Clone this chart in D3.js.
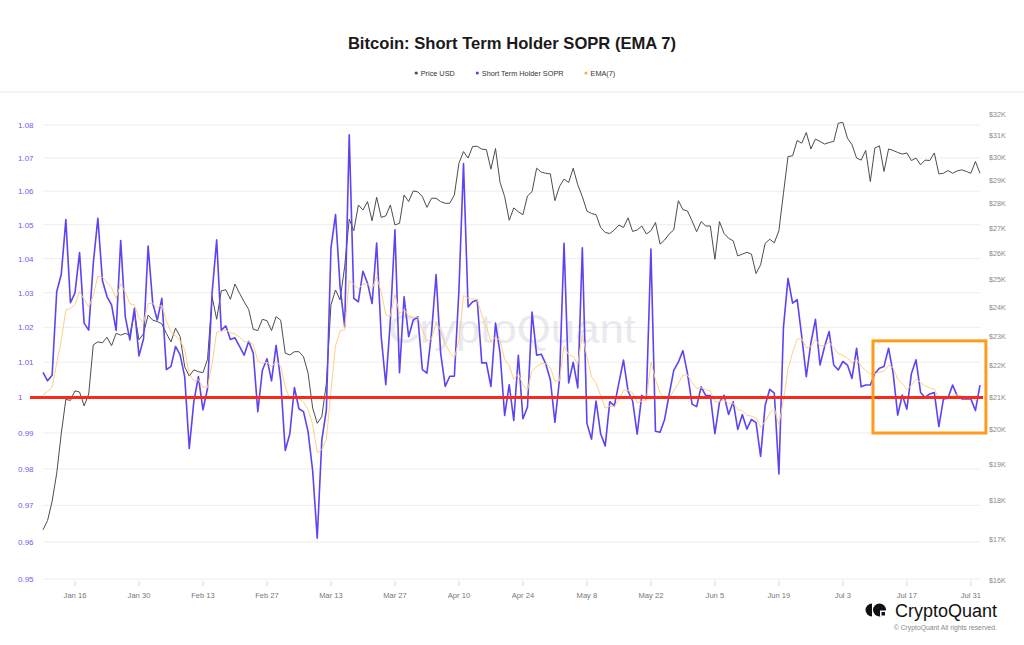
<!DOCTYPE html>
<html>
<head>
<meta charset="utf-8">
<title>Bitcoin: Short Term Holder SOPR (EMA 7)</title>
<script src="https://cdn.jsdelivr.net/npm/d3@7"></script>
<style>
  html, body { margin: 0; padding: 0; background: #fff; }
  svg { display: block; font-family: "Liberation Sans", Arial, Helvetica, sans-serif; }
</style>
</head>
<body>
<div id="chart"></div>
<script>
/* -------------------------------------------------
   Bitcoin: Short Term Holder SOPR (EMA 7) – daily, 2023
   ------------------------------------------------- */

// ---------------------------------------------------------
// 1. DATA – one value per day, starting Jan 9 2023
// ---------------------------------------------------------
const firstDay = "2023-01-09";

const seriesNames = ["Price USD", "Short Term Holder SOPR", "EMA(7)"];

const soprValues = [
  1.0071, 1.0047, 1.0063, 1.0303, 1.0354, 1.0515, 1.0271, 1.0300, 1.0418, 1.0212,
  1.0192, 1.0386, 1.0519, 1.0336, 1.0289, 1.0265, 1.0191, 1.0453, 1.0231, 1.0164,
  1.0255, 1.0118, 1.0167, 1.0437, 1.0270, 1.0221, 1.0284, 1.0079, 1.0088, 1.0145,
  1.0121, 1.0059, 0.9857, 0.9988, 1.0059, 0.9965, 1.0026, 1.0300, 1.0455, 1.0192,
  1.0204, 1.0165, 1.0170, 1.0145, 1.0120, 1.0160, 1.0126, 0.9960, 1.0077, 1.0110,
  1.0047, 1.0148, 1.0049, 0.9851, 0.9898, 1.0028, 0.9968, 0.9960, 0.9903, 0.9795,
  0.9610, 0.9880, 0.9965, 1.0431, 1.0530, 1.0318, 1.0202, 1.0770, 1.0284, 1.0274,
  1.0363, 1.0328, 1.0269, 1.0446, 1.0173, 1.0036, 1.0221, 1.0485, 1.0070, 1.0288,
  1.0173, 1.0221, 1.0231, 1.0079, 1.0069, 1.0183, 1.0353, 1.0126, 1.0031, 1.0060,
  1.0060, 1.0308, 1.0683, 1.0259, 1.0274, 1.0279, 1.0098, 1.0098, 1.0031, 1.0212,
  1.0126, 0.9949, 1.0036, 0.9935, 1.0120, 0.9940, 0.9973, 1.0244, 1.0120, 1.0123,
  1.0095, 1.0050, 0.9930, 1.0050, 1.0445, 1.0041, 1.0100, 1.0027, 1.0432, 0.9927,
  0.9883, 0.9990, 0.9898, 0.9864, 0.9988, 0.9976, 1.0041, 1.0106, 1.0018, 0.9990,
  0.9897, 1.0006, 0.9995, 1.0428, 0.9905, 0.9902, 0.9938, 1.0009, 1.0077, 1.0100,
  1.0133, 1.0068, 0.9981, 0.9974, 1.0030, 1.0005, 1.0005, 0.9898, 0.9986, 1.0006,
  0.9952, 0.9988, 0.9910, 0.9952, 0.9911, 0.9938, 0.9929, 0.9835, 0.9978, 1.0023,
  1.0012, 0.9786, 1.0200, 1.0342, 1.0270, 1.0280, 1.0174, 1.0059, 1.0155, 1.0223,
  1.0092, 1.0145, 1.0188, 1.0092, 1.0078, 1.0102, 1.0092, 1.0054, 1.0140, 1.0030,
  1.0035, 1.0035, 1.0068, 1.0083, 1.0088, 1.0140, 1.0068, 0.9950, 1.0007, 0.9967,
  1.0068, 1.0107, 1.0014, 1.0000, 1.0010, 1.0014, 0.9918, 0.9996, 0.9998, 1.0035,
  1.0005, 0.9996, 0.9996, 0.9996, 0.9963, 1.0035
];

const emaValues = [
  1.0007, 1.0017, 1.0029, 1.0097, 1.0162, 1.0250, 1.0255, 1.0266, 1.0304, 1.0281,
  1.0259, 1.0291, 1.0348, 1.0345, 1.0331, 1.0315, 1.0284, 1.0326, 1.0302, 1.0268,
  1.0265, 1.0228, 1.0213, 1.0269, 1.0269, 1.0257, 1.0264, 1.0218, 1.0186, 1.0176,
  1.0162, 1.0136, 1.0066, 1.0047, 1.0050, 1.0029, 1.0028, 1.0096, 1.0186, 1.0188,
  1.0192, 1.0185, 1.0181, 1.0172, 1.0159, 1.0159, 1.0151, 1.0103, 1.0097, 1.0100,
  1.0087, 1.0102, 1.0089, 1.0030, 0.9997, 1.0005, 0.9996, 0.9987, 0.9966, 0.9923,
  0.9845, 0.9854, 0.9882, 1.0019, 1.0147, 1.0190, 1.0193, 1.0337, 1.0324, 1.0312,
  1.0325, 1.0326, 1.0312, 1.0346, 1.0303, 1.0236, 1.0232, 1.0295, 1.0239, 1.0251,
  1.0232, 1.0229, 1.0230, 1.0192, 1.0161, 1.0167, 1.0214, 1.0192, 1.0152, 1.0129,
  1.0112, 1.0161, 1.0292, 1.0284, 1.0282, 1.0281, 1.0235, 1.0201, 1.0159, 1.0172,
  1.0161, 1.0108, 1.0090, 1.0051, 1.0068, 1.0036, 1.0020, 1.0076, 1.0087, 1.0096,
  1.0096, 1.0085, 1.0046, 1.0047, 1.0147, 1.0121, 1.0116, 1.0094, 1.0179, 1.0116,
  1.0058, 1.0041, 1.0005, 0.9970, 0.9975, 0.9975, 0.9992, 1.0021, 1.0020, 1.0013,
  0.9984, 0.9990, 0.9991, 1.0100, 1.0051, 1.0014, 0.9995, 0.9999, 1.0019, 1.0039,
  1.0063, 1.0064, 1.0043, 1.0026, 1.0027, 1.0022, 1.0018, 0.9988, 0.9988, 0.9993,
  0.9983, 0.9984, 0.9966, 0.9963, 0.9950, 0.9947, 0.9943, 0.9916, 0.9932, 0.9955,
  0.9969, 0.9923, 0.9992, 1.0080, 1.0128, 1.0166, 1.0168, 1.0141, 1.0145, 1.0165,
  1.0147, 1.0147, 1.0157, 1.0141, 1.0125, 1.0119, 1.0112, 1.0098, 1.0109, 1.0089,
  1.0076, 1.0066, 1.0067, 1.0071, 1.0075, 1.0091, 1.0085, 1.0051, 1.0040, 1.0022,
  1.0034, 1.0052, 1.0043, 1.0032, 1.0027, 1.0024, 0.9998, 0.9998, 0.9998, 1.0007,
  1.0007, 1.0004, 1.0002, 1.0001, 0.9992, 1.0003
];

const priceValues = [
  17240, 17480, 17990, 18750, 19900, 20930, 20900, 21200, 21160, 20730,
  21100, 22700, 22800, 22770, 22960, 22670, 23090, 23030, 23090, 23030,
  23790, 22870, 23090, 23730, 23550, 23500, 23420, 23090, 22800, 23270,
  22980, 21970, 21670, 21870, 21810, 21780, 22220, 24380, 23580, 24600,
  24640, 24290, 24850, 24510, 24200, 23930, 23230, 23190, 23580, 23530,
  23190, 23670, 23550, 22420, 22360, 22470, 22470, 22300, 21760, 20660,
  20200, 20400, 21440, 24090, 24630, 24270, 25500, 27370, 26900, 27950,
  27740, 28090, 27300, 28270, 27440, 27500, 27950, 27130, 27200, 28370,
  28090, 28540, 28500, 28300, 27850, 28230, 28230, 28090, 28020, 28020,
  28370, 29740, 30260, 29970, 30490, 30500, 30370, 30350, 29480, 30400,
  28900, 28300, 27320, 27830, 27670, 27550, 28330, 28510, 29520, 29350,
  29300, 29270, 28130, 28730, 29050, 28900, 29520, 28800, 28300, 27700,
  27600, 27550, 27030, 26830, 26790, 26930, 27130, 27030, 27420, 26870,
  26930, 27090, 26770, 26900, 27230, 26370, 26530, 26770, 26930, 28130,
  27760, 27700, 27300, 26860, 27270, 27090, 27090, 25780, 27270, 26790,
  26600, 26500, 25910, 25980, 26050, 25980, 25240, 25570, 26400, 26560,
  26420, 26900, 28440, 30040, 30070, 30760, 30640, 31130, 30380, 30830,
  30720, 30600, 30670, 30720, 31570, 31600, 30870, 30570, 29970, 29880,
  30310, 28940, 30420, 30520, 29380, 30380, 30310, 30220, 30150, 30200,
  29860, 29970, 29670, 29880, 29860, 30200, 29270, 29300, 29420, 29300,
  29400, 29450, 29380, 29300, 29820, 29300
];

// axis ticks
const soprTicks  = [0.95, 0.96, 0.97, 0.98, 0.99, 1.00, 1.01, 1.02, 1.03, 1.04, 1.05, 1.06, 1.07, 1.08];
const priceTicks = [16000, 17000, 18000, 19000, 20000, 21000, 22000, 23000, 24000,
                    25000, 26000, 27000, 28000, 29000, 30000, 31000, 32000];
const dateTicks  = ["2023-01-16", "2023-01-30", "2023-02-13", "2023-02-27", "2023-03-13",
                    "2023-03-27", "2023-04-10", "2023-04-24", "2023-05-08", "2023-05-22",
                    "2023-06-05", "2023-06-19", "2023-07-03", "2023-07-17", "2023-07-31"];

// highlighted window (orange box): dates and SOPR range
const boxDates  = ["2023-07-09T14:00", "2023-08-03T07:00"];
const boxValues = [0.990, 1.0161];
const breakEven = 1;

// ---------------------------------------------------------
// 2. SVG + SCALES
// ---------------------------------------------------------
const width  = 1024;
const height = 645;

const svg = d3.select("#chart").append("svg")
    .attr("width", width)
    .attr("height", height)
    .attr("viewBox", `0 0 ${width} ${height}`);

const parseDay  = d3.timeParse("%Y-%m-%d");
const parseHour = d3.timeParse("%Y-%m-%dT%H:%M");
const start = parseDay(firstDay);
const dates = soprValues.map((d, i) => d3.timeDay.offset(start, i));

const plotLeft = 43, plotRight = 980;

const x = d3.scaleTime()
    .domain([dates[0], dates[dates.length - 1]])
    .range([plotLeft, plotRight]);

const ySopr = d3.scaleLog()
    .domain([0.95, 1.08])
    .range([579, 125]);

const yPrice = d3.scaleLog()
    .domain([16000, 32000])
    .range([580, 114]);

const colors = {
  price: "#4d4d4d",
  sopr:  "#5b45f2",
  ema:   "#ffcf85",
  red:   "#f72a1c",
  box:   "#ff9a1a"
};

// ---------------------------------------------------------
// 3. TITLE + LEGEND
// ---------------------------------------------------------
svg.append("text")
    .attr("x", 512)
    .attr("y", 49)
    .attr("text-anchor", "middle")
    .style("font-size", "16.6px")
    .style("font-weight", "bold")
    .style("fill", "#1a1a1a")
    .text("Bitcoin: Short Term Holder SOPR (EMA 7)");

const legendColors = [colors.price, colors.sopr, "#ffad2e"];
const legend = svg.append("g");
let lx = 0;
seriesNames.forEach((name, i) => {
  const g = legend.append("g").attr("transform", `translate(${lx},0)`);
  g.append("circle").attr("cx", 1.5).attr("cy", 0).attr("r", 1.6).attr("fill", legendColors[i]);
  const t = g.append("text")
      .attr("x", 6)
      .attr("y", 2.6)
      .style("font-size", "7.3px")
      .style("fill", "#333")
      .text(name);
  lx += 6 + t.node().getComputedTextLength() + 21;
});
lx -= 21;
legend.attr("transform", `translate(${515 - lx / 2},73)`);

// thin band under the header
svg.append("rect")
    .attr("x", 0).attr("y", 91)
    .attr("width", width).attr("height", 2)
    .attr("fill", "#f4f4f4");

// ---------------------------------------------------------
// 4. GRID + AXES
// ---------------------------------------------------------
svg.append("g")
  .selectAll("line")
  .data(soprTicks)
  .join("line")
    .attr("x1", plotLeft)
    .attr("x2", plotRight)
    .attr("y1", d => ySopr(d))
    .attr("y2", d => ySopr(d))
    .attr("stroke", "#ededed")
    .attr("stroke-width", 1);

svg.append("g")
  .selectAll("text")
  .data(soprTicks)
  .join("text")
    .attr("x", 18)
    .attr("y", d => ySopr(d) + 3)
    .style("font-size", "8px")
    .style("fill", "#6a5ff0")
    .text(d => String(+d.toFixed(2)));

svg.append("g")
  .selectAll("text")
  .data(priceTicks)
  .join("text")
    .attr("x", 989)
    .attr("y", d => yPrice(d) + 2.5)
    .style("font-size", "7.2px")
    .style("fill", "#8a8a8a")
    .text(d => "$" + d / 1000 + "K");

const tickDates = dateTicks.map(parseDay);
const xAxis = svg.append("g");
xAxis.selectAll("line")
  .data(tickDates)
  .join("line")
    .attr("x1", d => x(d)).attr("x2", d => x(d))
    .attr("y1", 581).attr("y2", 586)
    .attr("stroke", "#d8d8d8");
xAxis.selectAll("text")
  .data(tickDates)
  .join("text")
    .attr("x", d => x(d))
    .attr("y", 597.5)
    .attr("text-anchor", "middle")
    .style("font-size", "7.6px")
    .style("fill", "#777")
    .text(d3.timeFormat("%b %-d"));

// watermark
svg.append("text")
    .attr("x", 512)
    .attr("y", 343)
    .attr("text-anchor", "middle")
    .attr("textLength", 248)
    .attr("lengthAdjust", "spacingAndGlyphs")
    .style("font-size", "40px")
    .style("fill", "#b9b7cc")
    .style("opacity", 0.3)
    .text("CryptoQuant");

// ---------------------------------------------------------
// 5. LINES
// ---------------------------------------------------------
const priceLine = d3.line()
    .x((d, i) => x(dates[i]))
    .y(d => yPrice(d));

const soprLine = d3.line()
    .x((d, i) => x(dates[i]))
    .y(d => ySopr(d));

svg.append("path")
    .datum(priceValues)
    .attr("d", priceLine)
    .attr("fill", "none")
    .attr("stroke", colors.price)
    .attr("stroke-width", 1)
    .attr("stroke-linejoin", "round");

svg.append("path")
    .datum(soprValues)
    .attr("d", soprLine)
    .attr("fill", "none")
    .attr("stroke", colors.sopr)
    .attr("stroke-width", 1.6)
    .attr("stroke-linejoin", "round");

svg.append("path")
    .datum(emaValues)
    .attr("d", soprLine)
    .attr("fill", "none")
    .attr("stroke", colors.ema)
    .attr("stroke-width", 1)
    .attr("stroke-linejoin", "round");

// break-even line at SOPR = 1
svg.append("line")
    .attr("x1", 30)
    .attr("x2", 983)
    .attr("y1", ySopr(breakEven))
    .attr("y2", ySopr(breakEven))
    .attr("stroke", colors.red)
    .attr("stroke-width", 3);

// highlight box
const bx0 = x(parseHour(boxDates[0])), bx1 = x(parseHour(boxDates[1]));
const by0 = ySopr(boxValues[1]), by1 = ySopr(boxValues[0]);
svg.append("rect")
    .attr("x", bx0)
    .attr("y", by0)
    .attr("width", bx1 - bx0)
    .attr("height", by1 - by0)
    .attr("fill", "none")
    .attr("stroke", colors.box)
    .attr("stroke-width", 3);

// ---------------------------------------------------------
// 6. LOGO + COPYRIGHT
// ---------------------------------------------------------
const logo = svg.append("g").attr("transform", "translate(866,603.5)");
logo.append("path")
    .attr("d", "M6,0 A6.5,6.5 0 0,0 6,13 Z")
    .attr("fill", "#111");
logo.append("circle")
    .attr("cx", 13.5).attr("cy", 6.5).attr("r", 6.5)
    .attr("fill", "#111");
logo.append("rect")
    .attr("x", 14).attr("y", 7).attr("width", 6).attr("height", 6)
    .attr("fill", "#fff");
logo.append("rect")
    .attr("x", 15.5).attr("y", 8.5).attr("width", 3.5).attr("height", 3.5)
    .attr("fill", "#111");

svg.append("text")
    .attr("x", 997)
    .attr("y", 616.5)
    .attr("text-anchor", "end")
    .style("font-size", "18px")
    .style("fill", "#111")
    .text("CryptoQuant");

svg.append("text")
    .attr("x", 997)
    .attr("y", 630)
    .attr("text-anchor", "end")
    .style("font-size", "6.8px")
    .style("fill", "#888")
    .text("© CryptoQuant All rights reserved.");
</script>
</body>
</html>
